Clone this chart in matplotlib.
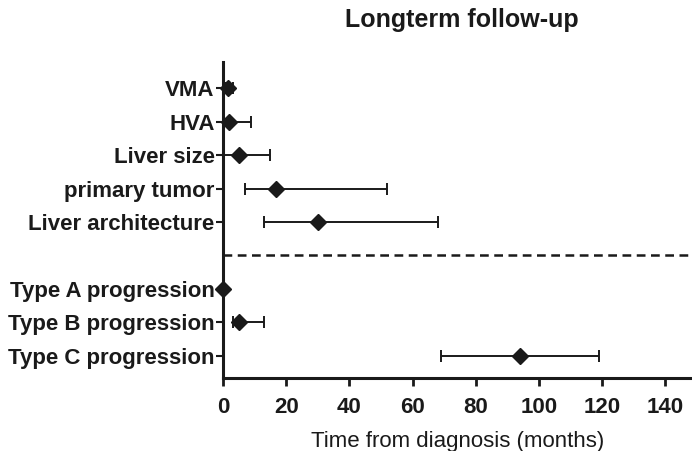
import matplotlib
matplotlib.use("Agg")
import matplotlib.pyplot as plt
import numpy as np

plt.rcParams['font.family'] = ['Liberation Sans', 'DejaVu Sans']

categories = ["VMA", "HVA", "Liver size", "primary tumor", "Liver architecture",
              "Type A progression", "Type B progression", "Type C progression"]
median = [1.5, 2.0, 5.0, 16.8, 30.0, 0.0, 5.0, 94.0]
low = [0.5, 0.0, 0.0, 7.0, 13.0, 0.0, 3.0, 69.0]
high = [3.0, 9.0, 15.0, 52.0, 68.0, 0.0, 13.0, 119.0]
positions = [0, 1, 2, 3, 4, 6, 7, 8]
separator = 5
xticks = [0, 20, 40, 60, 80, 100, 120, 140]

fig = plt.figure(figsize=(6.92, 4.51), dpi=100)
ax = fig.add_axes([0.3223, 0.1619, 0.6777, 0.7006])

med = np.array(median)
err = np.vstack([med - np.array(low), np.array(high) - med])
ax.errorbar(median, positions, xerr=err, fmt='D', color='#1a1a1a', ecolor='#1a1a1a',
            markersize=8, elinewidth=1.4, capsize=4.5, capthick=1.4, clip_on=False, zorder=3)

ax.axhline(separator, color='#1a1a1a', linestyle=(0, (3.5, 2.2)), linewidth=1.8)

ax.set_xlim(0, 148.5)
ax.set_ylim(8.66, -0.78)
ax.set_xticks(xticks)
ax.set_yticks(positions)
ax.set_yticklabels(categories, fontsize=16, fontweight='bold', color='#1a1a1a')
ax.set_xticklabels([str(t) for t in xticks], fontsize=16, fontweight='bold', color='#1a1a1a')
ax.tick_params(axis='y', length=5, width=1.5, color='#1a1a1a', pad=1)
ax.tick_params(axis='x', length=6, width=2, color='#1a1a1a', pad=8)

for s in ['top', 'right']:
    ax.spines[s].set_visible(False)
for s in ['left', 'bottom']:
    ax.spines[s].set_linewidth(2.2)
    ax.spines[s].set_color('#1a1a1a')

ax.set_xlabel("Time from diagnosis (months)", fontsize=16, color='#1a1a1a', labelpad=9)
fig.text(0.667, 0.955, "Longterm follow-up", ha='center', va='center',
         fontsize=18, fontweight='bold', color='#1a1a1a')

fig.savefig("out.png", dpi=100)
